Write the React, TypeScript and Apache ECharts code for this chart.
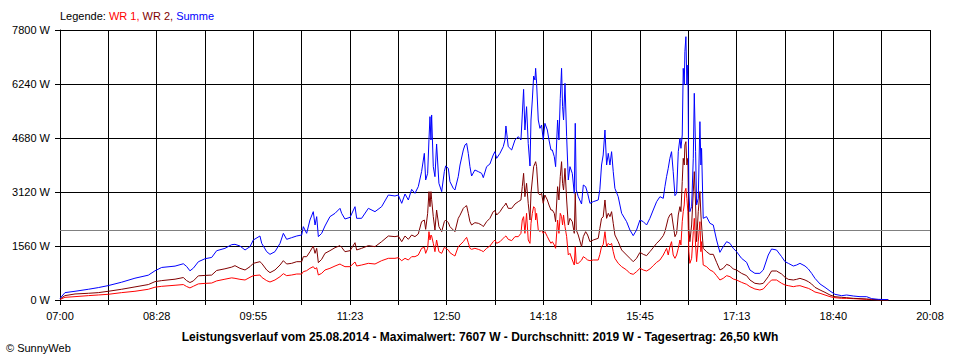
import React, { useEffect, useRef } from 'react';
import * as echarts from 'echarts';

// minutes after 07:00
const minutes = [
  0, 4.5, 13.6, 25.7, 34.7, 43.8, 55.8, 67.9, 80.0, 86.0, 92.1, 104.2, 111.7, 114.7, 117.7, 120.8, 125.3, 131.3, 137.4, 141.9, 149.4, 155.5,
  158.5, 163.0, 167.6, 172.1, 175.1, 181.1, 182.7, 187.2, 190.2, 194.7, 199.3, 202.3, 205.3, 209.8, 214.4, 218.9, 220.4, 223.4, 226.4, 229.4, 231.0, 232.5, 234.0, 237.0, 240.0, 244.5, 249.1, 253.6, 255.1, 258.1, 262.7, 267.2, 268.7, 273.2, 279.3, 285.3, 291.3, 297.4, 303.4, 306.4, 309.5, 312.5, 315.5, 318.5,
  321.5, 324.5, 327.5, 330.0, 331.2, 333.0, 334.2, 335.1, 336.0, 336.6, 338.1, 339.6, 341.1, 343.2, 345.7, 348.1, 349.3, 351.7, 353.2, 356.2, 357.7, 360.7, 362.3, 365.3, 366.8, 368.3, 369.8, 371.3, 372.8, 375.8, 378.9, 381.9, 383.4, 386.4, 389.4, 392.4, 393.9, 395.5, 398.5, 401.5, 403.0, 403.9, 406.0, 409.1, 412.1, 415.1, 417.5, 418.7, 419.9, 421.1, 422.6, 424.1, 425.7, 426.6, 427.8, 429.0, 430.2, 430.8, 431.7, 433.2, 434.7, 436.2, 437.7, 439.2, 441.4, 442.9, 444.7, 445.9, 447.7, 448.9, 450.7, 451.9, 453.1, 454.3, 455.2, 456.1, 457.4, 458.9, 460.4, 461.9, 464.0, 465.8, 466.7, 467.6, 469.4, 472.4, 474.0, 476.1, 477.9, 480.0, 483.0,
  487.5, 489.0, 490.5, 492.0, 493.6, 495.1, 496.6, 498.1, 499.6, 501.1, 502.6, 505.6, 508.7, 513.2, 516.2, 519.2, 522.2, 525.3, 528.3, 531.3, 534.3, 537.3, 540.4, 543.4, 546.4, 547.9, 549.4, 550.9, 552.4, 553.9, 555.4, 557.0, 558.5, 560.0, 561.5, 562.4, 563.6, 564.5, 565.4, 566.0, 566.9, 567.8, 568.7, 569.6, 570.5, 572.1, 573.6, 574.5, 575.7, 576.6, 578.1, 579.6, 580.5, 581.1, 582.6, 585.6, 588.7, 591.7, 594.7, 597.7, 600.7, 603.8, 606.8, 609.8, 612.8, 617.3, 621.9, 624.9, 629.4, 633.9, 637.0, 641.5, 644.5, 649.0,
  653.6, 656.7, 659.7, 664.2, 667.2, 670.2, 674.8, 677.8, 680.8, 683.8, 688.4, 692.9, 697.4, 701.9, 708.0, 712.5, 718.5, 724.6, 730.6, 735.2, 741.2, 750.2,
];

const wr1 = [
  15, 77, 97, 126, 145, 165, 213, 252, 310, 370, 395, 426, 446, 390, 349, 397, 465, 480, 490, 552, 601, 640,
  626, 597, 578, 655, 703, 722, 655, 559, 520, 578, 674, 761, 703, 722, 751, 751, 819, 847, 915, 963, 896, 934, 722, 770, 867, 915, 982, 1040, 1011, 963, 963, 1098, 982, 1011, 1059, 1040, 1136, 1204, 1204, 1223, 1136, 1204, 1156, 1252,
  1252, 1300, 1493, 1522, 1348, 1493, 1974, 1733, 1878, 1850, 1637, 1396, 1733, 1396, 1348, 1522, 1493, 1445, 1367, 1300, 1271, 1541, 1590, 1685, 1753, 1810, 1656, 1493, 1464, 1493, 1464, 1425, 1396, 1493, 1560, 1685, 1733, 1637, 1685, 1782, 1830, 1850, 1753, 1714, 1830, 1830, 1926, 2311, 2408, 1926, 2504, 1733, 1637, 2215, 2504, 2696, 2648, 2311, 2504, 2022, 1974, 2022, 1926, 1974, 1830, 1733, 1637, 1685, 1589, 1493, 2311, 1926, 2504, 2408, 2167, 2456, 2119, 1830, 1300, 1348, 1156, 1011, 1541, 1059, 1060, 1150, 1252, 1204, 1156, 1136, 1156,
  1156, 1319, 1541, 1600, 1974, 1541, 1637, 1589, 1637, 1396, 1204, 1059, 963, 867, 770, 742, 819, 915, 867, 838, 896, 992, 1088, 1156, 1300, 1396, 1493, 1300, 1541, 1685, 1300, 1204, 1300, 1493, 1733, 1589, 2263, 2552, 2745, 3130, 3226, 2937, 2552, 1396, 1059, 1204, 1974, 2359, 1589, 1107, 1685, 2263, 1396, 1685, 1011, 963, 867, 819, 703, 578, 626, 703, 674, 607, 578, 510, 453, 385, 318, 289, 318, 482, 578, 578,
  482, 433, 414, 385, 404, 414, 366, 337, 289, 231, 193, 144, 96, 67, 48, 48, 39, 29, 19, 10, 0, 0,
];

const wr2 = [
  30, 126, 174, 194, 213, 252, 310, 378, 446, 530, 560, 601, 649, 560, 504, 552, 698, 710, 720, 853, 901, 950,
  992, 915, 867, 963, 1059, 1107, 1059, 867, 790, 867, 1011, 1136, 1040, 1059, 1107, 1107, 1252, 1252, 1396, 1560, 1348, 1493, 1079, 1175, 1348, 1425, 1512, 1570, 1522, 1396, 1425, 1656, 1445, 1493, 1570, 1541, 1685, 1849, 1830, 1849, 1685, 1849, 1753, 1878,
  1830, 1907, 2263, 2311, 2041, 2504, 3130, 2696, 3130, 2900, 2408, 2022, 2600, 2119, 1974, 2263, 2311, 2234, 2119, 2022, 1974, 2359, 2450, 2648, 2696, 2725, 2504, 2263, 2167, 2234, 2215, 2167, 2119, 2263, 2359, 2552, 2581, 2456, 2552, 2696, 2745, 2800, 2648, 2648, 2773, 2841, 2889, 3274, 3659, 2985, 3371, 2793, 2311, 3082, 3467, 3852, 3948, 3996, 3852, 3082, 3033, 3082, 2793, 3033, 2889, 2745, 2600, 2600, 2504, 2263, 3274, 2889, 3563, 3996, 3371, 3178, 3804, 2889, 2167, 2359, 2263, 1926, 3082, 2022, 1878, 1541, 1830, 1974, 1878, 1685, 1733,
  1782, 2070, 2359, 2400, 2889, 2359, 2504, 2408, 2552, 2215, 1878, 1685, 1445, 1300, 1204, 1107, 1204, 1377, 1319, 1281, 1396, 1512, 1637, 1733, 1859, 1974, 2167, 2359, 2456, 2504, 2167, 1830, 1926, 2456, 2696, 2552, 3419, 4093, 3900, 4478, 4574, 3900, 4093, 2070, 1685, 2167, 3130, 3708, 2745, 1685, 2552, 3130, 2456, 2167, 1493, 1396, 1319, 1319, 1088, 867, 915, 1030, 992, 896, 867, 770, 703, 578, 482, 462, 482, 674, 838, 838,
  751, 655, 597, 578, 597, 626, 578, 530, 462, 366, 289, 221, 144, 96, 77, 67, 48, 39, 29, 19, 10, 0,
];

const summe = [
  45, 213, 252, 310, 358, 417, 514, 630, 717, 843, 940, 979, 1047, 969, 843, 920, 1105, 1192, 1230, 1424, 1492, 1599,
  1608, 1560, 1445, 1541, 1733, 1849, 1637, 1396, 1319, 1396, 1637, 1926, 1753, 1801, 1849, 1878, 2119, 1926, 2311, 2552, 2167, 2408, 1830, 1926, 2138, 2408, 2504, 2648, 2504, 2340, 2388, 2696, 2360, 2360, 2648, 2552, 2696, 3033, 3005, 3033, 2793, 3062, 2889, 3197,
  3082, 3274, 3708, 4237, 3467, 3659, 4642, 5297, 4622, 5345, 3852, 3563, 4507, 3371, 3130, 3708, 3871, 3804, 3419, 3226, 3178, 3563, 3900, 4334, 4478, 4526, 4237, 3852, 3582, 3756, 3708, 3659, 3534, 3852, 3929, 4189, 4285, 4093, 4237, 4430, 4622, 5027, 4430, 4334, 4622, 4719, 4622, 5345, 6086, 4911, 5585, 4526, 3871, 5200, 5778, 6471, 6356, 6693, 6259, 5200, 4959, 5056, 4622, 5104, 4911, 4622, 4334, 4334, 4141, 3852, 5200, 4622, 5826, 6693, 5585, 5200, 6259, 4719, 3467, 3852, 3659, 3082, 5104, 3178, 2985, 2773, 3322, 3274, 3082, 2793, 2841,
  2889, 3200, 3900, 4189, 4911, 3900, 4237, 3900, 4285, 3708, 3226, 2985, 2504, 2263, 2022, 1859, 2022, 2311, 2263, 2167, 2359, 2600, 2841, 2985, 2937, 3274, 3563, 3804, 4093, 4285, 3708, 3014, 3082, 4285, 4671, 4382, 4767, 6693, 6211, 7174, 7607, 6211, 6789, 3130, 2552, 2696, 4093, 5971, 4285, 2745, 2937, 5152, 3900, 4382, 2359, 2408, 2215, 2167, 1733, 1377, 1541, 1685, 1637, 1493, 1396, 1204, 1088, 867, 770, 770, 867, 1300, 1473, 1445,
  1252, 1107, 1059, 982, 1011, 1059, 982, 896, 770, 626, 462, 366, 260, 164, 125, 144, 116, 96, 96, 39, 19, 10,
];

const seriesNames = ['WR 1', 'WR 2', 'Summe'];
const seriesColors = ['#ff0000', '#800000', '#0000ff'];
const average = 2019;
const startMinuteOfDay = 420; // 07:00
const spanMinutes = 788; // to 20:08
const xTickCount = 18;
const yMax = 7800;
const yStep = 1560;
const titleText = 'Leistungsverlauf vom 25.08.2014 - Maximalwert: 7607 W - Durchschnitt: 2019 W - Tagesertrag: 26,50 kWh';
const copyrightText = '\u00A9 SunnyWeb';

const FONT = '"Liberation Sans", Arial, sans-serif';

function fmtTime(v: number): string {
  const m = Math.round(startMinuteOfDay + v);
  const hh = Math.floor(m / 60);
  const mm = m % 60;
  return String(hh).padStart(2, '0') + ':' + String(mm).padStart(2, '0');
}

export default function App() {
  const ref = useRef<HTMLDivElement>(null);
  useEffect(() => {
    if (!ref.current) return;
    const chart = echarts.init(ref.current, undefined, { renderer: 'svg' });
    const data = [wr1, wr2, summe];
    chart.setOption({
      animation: false,
      backgroundColor: '#ffffff',
      textStyle: { fontFamily: FONT },
      grid: { left: 60, right: 30, top: 30, bottom: 60, containLabel: false },
      xAxis: {
        type: 'value',
        min: 0,
        max: spanMinutes,
        interval: spanMinutes / xTickCount,
        axisLine: { show: true, onZero: false, lineStyle: { color: '#000', width: 1 } },
        axisTick: { show: true, length: 5, lineStyle: { color: '#000' } },
        axisLabel: {
          color: '#000',
          fontSize: 11,
          fontFamily: FONT,
          margin: 10,
          showMinLabel: true,
          showMaxLabel: true,
          formatter: (v: number, idx: number) => (idx % 2 === 0 ? fmtTime(v) : ''),
        },
        splitLine: { show: true, lineStyle: { color: '#000', width: 1 } },
      },
      yAxis: {
        type: 'value',
        min: 0,
        max: yMax,
        interval: yStep,
        axisLine: { show: true, lineStyle: { color: '#000', width: 1 } },
        axisTick: { show: true, length: 5, lineStyle: { color: '#000' } },
        axisLabel: {
          color: '#000',
          fontSize: 11,
          fontFamily: FONT,
          margin: 10,
          formatter: (v: number) => String(v) + ' W',
        },
        splitLine: { show: true, lineStyle: { color: '#000', width: 1 } },
      },
      series: seriesNames.map((name, i) => ({
        name,
        type: 'line',
        showSymbol: false,
        symbol: 'none',
        lineStyle: { color: seriesColors[i], width: 1 },
        itemStyle: { color: seriesColors[i] },
        data: minutes.map((m, j) => [m, data[i][j]]),
        z: 3 + i,
        markLine: i === 0 ? {
          silent: true,
          symbol: 'none',
          label: { show: false },
          lineStyle: { color: '#808080', type: 'solid', width: 1 },
          data: [{ yAxis: average }],
        } : undefined,
      })),
      graphic: [
        {
          type: 'text',
          left: 60,
          top: 10,
          style: {
            text: '{k|Legende: }{a|WR 1, }{b|WR 2, }{c|Summe}',
            font: '11px ' + FONT,
            rich: {
              k: { fill: '#000000', fontSize: 11, fontFamily: FONT },
              a: { fill: '#ff0000', fontSize: 11, fontFamily: FONT },
              b: { fill: '#800000', fontSize: 11, fontFamily: FONT },
              c: { fill: '#0000ff', fontSize: 11, fontFamily: FONT },
            },
          },
        },
        {
          type: 'text',
          x: 480,
          y: 337,
          style: {
            text: titleText,
            fill: '#000',
            font: 'bold 12px ' + FONT,
            textAlign: 'center',
            textVerticalAlign: 'middle',
          },
        },
        {
          type: 'text',
          x: 6,
          y: 348,
          style: {
            text: copyrightText,
            fill: '#000',
            font: '11px ' + FONT,
            textAlign: 'left',
            textVerticalAlign: 'middle',
          },
        },
      ],
    });
    return () => chart.dispose();
  }, []);
  return (
    <div
      ref={ref}
      style={{ position: 'fixed', left: 0, top: 0, width: 960, height: 360, background: '#fff' }}
    />
  );
}
